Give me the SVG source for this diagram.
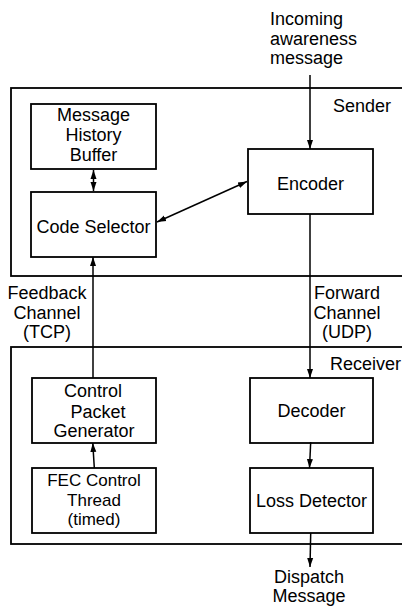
<svg xmlns="http://www.w3.org/2000/svg" width="402" height="608" viewBox="0 0 402 608">
<style>
.box{fill:#fff;stroke:#000;stroke-width:1.8}
.frame{fill:none;stroke:#000;stroke-width:1.8}
.t{font-family:"Liberation Sans",Arial,sans-serif;font-size:18px;fill:#000}
.s{font-size:17px}
.m{text-anchor:middle}
.c{fill:none;stroke:#000;stroke-width:1.5}
</style>
<defs>
<marker id="ah" markerUnits="userSpaceOnUse" markerWidth="10" markerHeight="8" refX="9" refY="4" orient="auto-start-reverse">
<path d="M0,1 L9,4 L0,7 z" fill="#000"/>
</marker>
</defs>
<g id="sender">
<rect class="frame" x="11" y="88" width="400" height="188"/>
<text class="t" x="333" y="112">Sender</text>
</g>
<g id="receiver">
<rect class="frame" x="11" y="347" width="400" height="197"/>
<text class="t" x="330" y="370">Receiver</text>
</g>
<g id="incoming">
<text class="t" x="270" y="25">Incoming</text>
<text class="t" x="270" y="45">awareness</text>
<text class="t" x="270" y="64">message</text>
</g>
<g id="mhb">
<rect class="box" x="31" y="104" width="125" height="65"/>
<text class="t m" x="93.5" y="121">Message</text>
<text class="t m" x="93.5" y="141">History</text>
<text class="t m" x="93.5" y="161">Buffer</text>
</g>
<g id="codesel">
<rect class="box" x="31" y="192" width="125" height="65"/>
<text class="t m" x="93.5" y="233">Code Selector</text>
</g>
<g id="encoder">
<rect class="box" x="248" y="149" width="125" height="65"/>
<text class="t m" x="310.5" y="190">Encoder</text>
</g>
<g id="feedback">
<text class="t m" x="47" y="299">Feedback</text>
<text class="t m" x="47" y="319">Channel</text>
<text class="t m" x="47" y="338">(TCP)</text>
</g>
<g id="forward">
<text class="t m" x="347" y="299">Forward</text>
<text class="t m" x="347" y="319">Channel</text>
<text class="t m" x="347" y="338">(UDP)</text>
</g>
<g id="cpg">
<rect class="box" x="32" y="378" width="124" height="65"/>
<text class="t m" x="93" y="397">Control</text>
<text class="t m" x="98" y="418">Packet</text>
<text class="t m" x="94" y="437">Generator</text>
</g>
<g id="fec">
<rect class="box" x="32" y="468" width="124" height="65"/>
<text class="t s m" x="94" y="486">FEC Control</text>
<text class="t s m" x="94" y="505.5">Thread</text>
<text class="t s m" x="94" y="525">(timed)</text>
</g>
<g id="decoder">
<rect class="box" x="250" y="378" width="123" height="65"/>
<text class="t m" x="311.5" y="417">Decoder</text>
</g>
<g id="loss">
<rect class="box" x="250" y="468" width="123" height="65"/>
<text class="t m" x="311.5" y="507">Loss Detector</text>
</g>
<g id="dispatch">
<text class="t m" x="309" y="583">Dispatch</text>
<text class="t m" x="309" y="602">Message</text>
</g>
<g id="connectors">
<line class="c" x1="310" y1="75" x2="310" y2="149" marker-end="url(#ah)"/>
<line class="c" x1="93.5" y1="170" x2="93.5" y2="191" marker-start="url(#ah)" marker-end="url(#ah)"/>
<line class="c" x1="157" y1="222" x2="247" y2="181.5" marker-start="url(#ah)" marker-end="url(#ah)"/>
<line class="c" x1="93" y1="378" x2="93" y2="257" marker-end="url(#ah)"/>
<line class="c" x1="310" y1="214" x2="310" y2="378" marker-end="url(#ah)"/>
<line class="c" x1="94.3" y1="468" x2="92.8" y2="443" marker-end="url(#ah)"/>
<line class="c" x1="310.7" y1="442" x2="309.5" y2="468" marker-end="url(#ah)"/>
<line class="c" x1="310.7" y1="533" x2="310" y2="567" marker-end="url(#ah)"/>
</g>
</svg>
